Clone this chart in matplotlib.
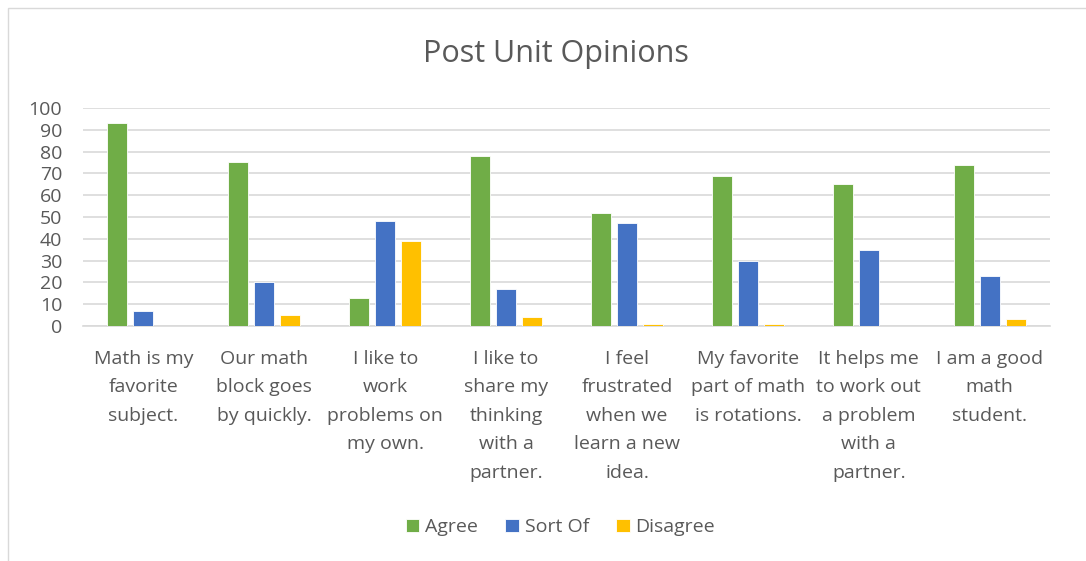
import matplotlib.pyplot as plt
import numpy as np

categories = ["Math is my\nfavorite\nsubject.",
              "Our math\nblock goes\nby quickly.",
              "I like to\nwork\nproblems on\nmy own.",
              "I like to\nshare my\nthinking\nwith a\npartner.",
              "I feel\nfrustrated\nwhen we\nlearn a new\nidea.",
              "My favorite\npart of math\nis rotations.",
              "It helps me\nto work out\na problem\nwith a\npartner.",
              "I am a good\nmath\nstudent."]
agree = [93, 75, 13, 78, 52, 69, 65, 74]
sort_of = [7, 20, 48, 17, 47, 30, 35, 23]
disagree = [0, 5, 39, 4, 1, 1, 0, 3]

series = [("Agree", agree, "#70ad47"),
          ("Sort Of", sort_of, "#4472c4"),
          ("Disagree", disagree, "#ffc000")]

plt.rcParams['font.family'] = ['Open Sans', 'DejaVu Sans']
txt = "#595959"

fig = plt.figure(figsize=(10.86, 5.61), dpi=100)
ax = fig.add_axes([0.0764, 0.419, 0.8906, 0.3886])

x = np.arange(len(categories))
w = 0.165
step = 0.215
for i, (name, vals, col) in enumerate(series):
    ax.bar(x + (i - 1) * step, vals, w, color=col, label=name,
           edgecolor="white", linewidth=0.6, zorder=3)

ax.set_xlim(-0.5, len(categories) - 0.5)
ax.set_ylim(0, 100)
ax.set_yticks(range(0, 101, 10))
ax.yaxis.grid(True, color="#d9d9d9", linewidth=1.2, zorder=0)
for s in ["top", "right", "left"]:
    ax.spines[s].set_visible(False)
ax.spines["bottom"].set_color("#d9d9d9")
ax.spines["bottom"].set_linewidth(1.2)
ax.tick_params(axis="both", length=0, colors=txt, labelsize=14)
ax.tick_params(axis="x", pad=17)
ax.tick_params(axis="y", pad=15)
ax.set_xticks(x)
ax.set_xticklabels(categories, linespacing=1.75)

fig.suptitle("Post Unit Opinions", x=0.512, y=0.93, fontsize=22, color=txt)

fig.legend(loc="center", bbox_to_anchor=(0.516, 0.06), ncol=3, frameon=False,
           fontsize=14, labelcolor=txt, handlelength=0.7, handleheight=0.7,
           handletextpad=0.3, columnspacing=1.4)

fig.patches.append(plt.Rectangle((0.007, -0.1), 1.2, 1.085, transform=fig.transFigure,
                                 fill=False, edgecolor="#d9d9d9", linewidth=1))

fig.savefig("out.png", dpi=100)
